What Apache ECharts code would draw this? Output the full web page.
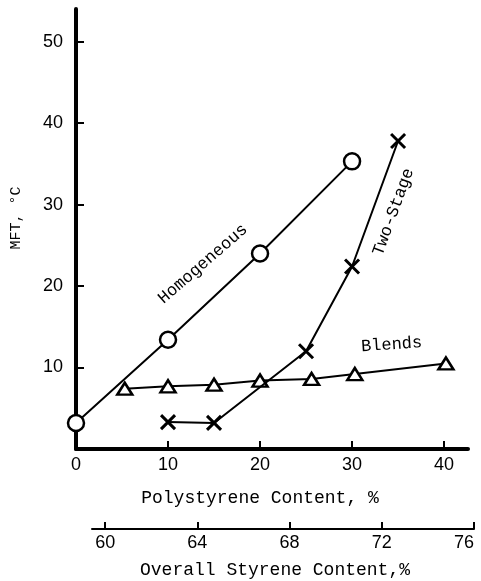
<!DOCTYPE html>
<html><head><meta charset="utf-8">
<script src="https://cdn.jsdelivr.net/npm/echarts@6/dist/echarts.min.js"></script>
<style>html,body{margin:0;padding:0;background:#fff}#c{width:481px;height:581px}</style>
</head><body><div id="c"></div>
<script>
// Data
const homX = [0, 10, 20, 30];
const homY = [3.2, 13.4, 24.0, 35.3];
const blendX = [5.3, 10, 15, 20, 25.6, 30.3, 40.2];
const blendY = [7.4, 7.7, 7.9, 8.4, 8.6, 9.2, 10.5];
const twoX = [10, 15, 25, 30, 35];
const twoY = [3.3, 3.2, 12.0, 22.4, 37.8];
const yTicks = [10, 20, 30, 40, 50];
const xTicks = [0, 10, 20, 30, 40];
const x2Ticks = [60, 64, 68, 72, 76];
const labels = [
  {text: 'Homogeneous', x: 13.8, y: 22.7, rot: 41},
  {text: 'Two-Stage', x: 34.5, y: 29.1, rot: 70},
  {text: 'Blends', x: 34.3, y: 12.8, rot: 4}
];

const mono = '"Liberation Mono", "DejaVu Sans Mono", monospace';
const numFont = '"Liberation Sans", "DejaVu Sans", sans-serif';
const crossPath = 'path://M0,0L10,10M10,0L0,10';
const zip = (a, b) => a.map((v, i) => [v, b[i]]);

const chart = echarts.init(document.getElementById('c'), null, {renderer: 'canvas'});
const option = {
  animation: false,
  backgroundColor: '#fff',
  grid: [
    {left: 76, right: 13, top: 9, bottom: 132, containLabel: false, outerBoundsMode: 'none'},
    {left: 92, right: 7, top: 528, height: 1, containLabel: false, outerBoundsMode: 'none'}
  ],
  xAxis: [
    {
      gridIndex: 0, type: 'value', min: 0, max: 42.6,
      name: 'Polystyrene Content, %', nameLocation: 'middle', nameGap: 40,
      nameTextStyle: {fontFamily: mono, fontSize: 18, color: '#000', padding: [0, 24, 0, 0]},
      axisLine: {show: true, lineStyle: {color: '#000', width: 4}},
      axisTick: {show: true, inside: true, length: 8, lineStyle: {color: '#000', width: 2}, customValues: xTicks},
      axisLabel: {color: '#000', fontFamily: numFont, fontSize: 18, margin: 7, customValues: xTicks},
      splitLine: {show: false}
    },
    {
      gridIndex: 1, type: 'value', min: 59.43, max: 76, position: 'bottom',
      name: 'Overall Styrene Content,%', nameLocation: 'middle', nameGap: 32,
      nameTextStyle: {fontFamily: mono, fontSize: 18, color: '#000', padding: [0, 16, 0, 0]},
      axisLine: {show: true, lineStyle: {color: '#000', width: 2}},
      axisTick: {show: true, inside: true, length: 7, lineStyle: {color: '#000', width: 2}, customValues: x2Ticks},
      axisLabel: {color: '#000', fontFamily: numFont, fontSize: 18, margin: 5, customValues: x2Ticks, alignMaxLabel: 'right'},
      splitLine: {show: false}
    }
  ],
  yAxis: [
    {
      gridIndex: 0, type: 'value', min: 0, max: 54,
      name: 'MFT, °C', nameLocation: 'middle', nameGap: 52, nameRotate: 90,
      nameTextStyle: {fontFamily: mono, fontSize: 15, color: '#000', padding: [0, 0, 0, 22]},
      axisLine: {show: true, lineStyle: {color: '#000', width: 4}},
      axisTick: {show: true, inside: true, length: 8, lineStyle: {color: '#000', width: 2}, customValues: yTicks},
      axisLabel: {color: '#000', fontFamily: numFont, fontSize: 18, margin: 13, customValues: yTicks},
      splitLine: {show: false}
    },
    {gridIndex: 1, type: 'value', min: 0, max: 1, show: false}
  ],
  series: [
    {
      name: 'Homogeneous', type: 'line', xAxisIndex: 0, yAxisIndex: 0,
      data: zip(homX, homY), symbol: 'circle', symbolSize: 16,
      lineStyle: {color: '#000', width: 2},
      itemStyle: {color: '#fff', borderColor: '#000', borderWidth: 2.5}, z: 3
    },
    {
      name: 'Blends', type: 'line', xAxisIndex: 0, yAxisIndex: 0,
      data: zip(blendX, blendY), symbol: 'triangle', symbolSize: [15, 12],
      lineStyle: {color: '#000', width: 2},
      itemStyle: {color: '#fff', borderColor: '#000', borderWidth: 2.5}, z: 4
    },
    {
      name: 'Two-Stage', type: 'line', xAxisIndex: 0, yAxisIndex: 0,
      data: zip(twoX, twoY), symbol: crossPath, symbolSize: 14,
      lineStyle: {color: '#000', width: 2},
      itemStyle: {color: 'none', borderColor: '#000', borderWidth: 3}, z: 5
    }
  ]
};
chart.setOption(option);

chart.setOption({
  graphic: labels.map(l => {
    const p = chart.convertToPixel({xAxisIndex: 0, yAxisIndex: 0}, [l.x, l.y]);
    return {
      type: 'text', x: p[0], y: p[1], rotation: l.rot * Math.PI / 180,
      style: {text: l.text, fontFamily: mono, fontSize: 17, fill: '#000', align: 'center', verticalAlign: 'middle'}
    };
  })
});
</script>
</body></html>
